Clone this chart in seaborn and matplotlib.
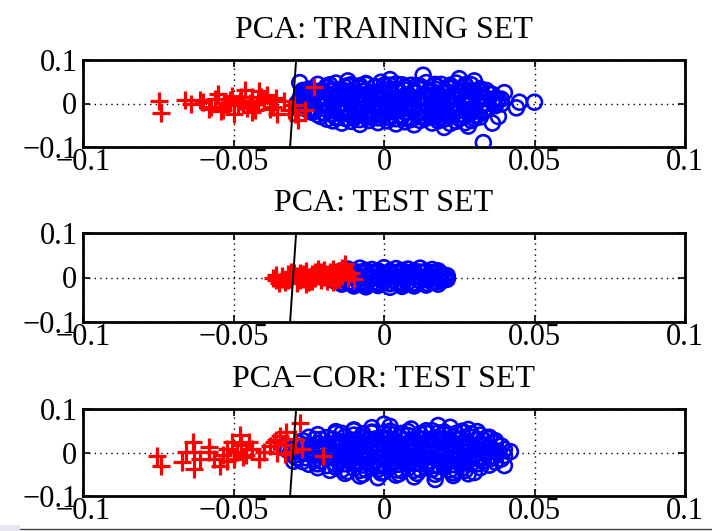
import matplotlib
matplotlib.use("Agg")
import matplotlib.pyplot as plt
from matplotlib.patches import Rectangle
from matplotlib.lines import Line2D
import seaborn as sns
import pandas as pd

# ---------------- data ----------------
titles = ["PCA: TRAINING SET", "PCA: TEST SET", "PCA\u2212COR: TEST SET"]
x_ticks = [-0.1, -0.05, 0, 0.05, 0.1]
x_tick_labels = ["\u22120.1", "\u22120.05", "0", "0.05", "0.1"]
y_ticks = [-0.1, 0, 0.1]
y_tick_labels = ["\u22120.1", "0", "0.1"]
boundary_x = [-0.0292, -0.0312]
boundary_y = [0.1, -0.1]

# Panel 1 : training set
train_blue_x = [-0.022, -0.016, -0.011, -0.006, -0.001, 0.004, 0.009, 0.014, 0.019, 0.024, 0.029,
                -0.025, -0.019, -0.014, -0.008, -0.003, 0.002, 0.007, 0.012, 0.017, 0.022, 0.027, 0.032,
                -0.027, -0.021, -0.016, -0.010, -0.005, 0.000, 0.005, 0.010, 0.015, 0.020, 0.025, 0.030, 0.035,
                -0.026, -0.020, -0.014, -0.009, -0.003, 0.002, 0.008, 0.013, 0.018, 0.023, 0.028, 0.033, 0.037,
                -0.028, -0.022, -0.017, -0.011, -0.006, 0.000, 0.005, 0.011, 0.016, 0.021, 0.026, 0.031, 0.036,
                -0.027, -0.021, -0.015, -0.010, -0.004, 0.001, 0.007, 0.012, 0.017, 0.022, 0.027, 0.032, 0.037,
                -0.025, -0.019, -0.013, -0.008, -0.002, 0.003, 0.009, 0.014, 0.019, 0.024, 0.029, 0.034,
                -0.022, -0.017, -0.011, -0.005, 0.000, 0.006, 0.011, 0.016, 0.021, 0.026, 0.031,
                -0.019, -0.013, -0.008, -0.002, 0.004, 0.009, 0.014, 0.020, 0.025, 0.030,
                -0.014, -0.008, -0.002, 0.004, 0.010, 0.016, 0.022, 0.027,
                -0.019, -0.013, -0.008, -0.003, 0.002, 0.007, 0.012, 0.017, 0.022, 0.027,
                -0.026, -0.022, -0.017, -0.011, -0.006, -0.001, 0.004, 0.010, 0.015, 0.020, 0.025, 0.030, 0.034,
                -0.027, -0.023, -0.018, -0.012, -0.007, -0.002, 0.003, 0.008, 0.013, 0.018, 0.023, 0.028, 0.033, 0.036,
                -0.028, -0.024, -0.019, -0.013, -0.008, -0.003, 0.003, 0.008, 0.013, 0.018, 0.024, 0.029, 0.034, 0.038,
                -0.029, -0.025, -0.019, -0.014, -0.008, -0.003, 0.003, 0.008, 0.013, 0.019, 0.024, 0.029, 0.034, 0.039,
                -0.027, -0.023, -0.018, -0.012, -0.007, -0.001, 0.004, 0.009, 0.015, 0.020, 0.025, 0.030, 0.035,
                -0.024, -0.020, -0.014, -0.009, -0.003, 0.002, 0.008, 0.013, 0.018, 0.023, 0.028, 0.033,
                -0.021, -0.016, -0.010, -0.005, 0.001, 0.006, 0.012, 0.017, 0.022, 0.027, 0.032,
                -0.017, -0.011, -0.005, 0.001, 0.007, 0.012, 0.018, 0.024, 0.029,
                -0.018, -0.012, -0.006, 0.000, 0.006, 0.011, 0.017, 0.022, 0.027,
                -0.024, -0.018, -0.013, -0.007, -0.001, 0.004, 0.010, 0.016, 0.021, 0.027, 0.032,
                -0.025, -0.019, -0.013, -0.007, -0.001, 0.004, 0.010, 0.016, 0.021, 0.027, 0.032,
                -0.026, -0.020, -0.014, -0.008, -0.002, 0.004, 0.010, 0.016, 0.021, 0.027, 0.033,
                -0.023, -0.017, -0.011, -0.005, 0.001, 0.007, 0.012, 0.018, 0.024, 0.030,
                -0.016, -0.010, -0.004, 0.002, 0.007, 0.013, 0.019, 0.025,
                -0.028, -0.027, 0.002, 0.013, 0.025, 0.030, 0.040, 0.044, 0.050, 0.045, 0.038, 0.033,
                0.036, 0.028, -0.012, 0.020, 0.039]
train_blue_y = [0.044, 0.047, 0.043, 0.046, 0.049, 0.045, 0.042, 0.048, 0.044, 0.047, 0.043,
                0.033, 0.036, 0.032, 0.035, 0.037, 0.034, 0.031, 0.036, 0.033, 0.035, 0.032, 0.034,
                0.024, 0.027, 0.023, 0.026, 0.022, 0.025, 0.028, 0.024, 0.026, 0.023, 0.027, 0.025, 0.022,
                0.014, 0.016, 0.013, 0.017, 0.015, 0.012, 0.016, 0.014, 0.017, 0.013, 0.015, 0.016, 0.012,
                0.006, 0.004, 0.007, 0.003, 0.005, 0.008, 0.004, 0.006, 0.003, 0.007, 0.005, 0.004, 0.006,
                -0.004, -0.006, -0.003, -0.007, -0.005, -0.004, -0.006, -0.003, -0.005, -0.007, -0.004, -0.006, -0.005,
                -0.016, -0.014, -0.017, -0.013, -0.015, -0.017, -0.014, -0.016, -0.013, -0.015, -0.017, -0.014,
                -0.026, -0.024, -0.027, -0.023, -0.025, -0.027, -0.024, -0.026, -0.023, -0.025, -0.027,
                -0.036, -0.034, -0.037, -0.033, -0.035, -0.037, -0.034, -0.036, -0.033, -0.035,
                -0.045, -0.048, -0.044, -0.047, -0.049, -0.045, -0.046, -0.044,
                0.040, 0.038, 0.041, 0.039, 0.042, 0.038, 0.040, 0.041, 0.039, 0.040,
                0.030, 0.028, 0.031, 0.029, 0.030, 0.028, 0.031, 0.029, 0.030, 0.028, 0.031, 0.029, 0.030,
                0.020, 0.019, 0.021, 0.018, 0.020, 0.021, 0.019, 0.020, 0.018, 0.021, 0.019, 0.020, 0.018, 0.021,
                0.010, 0.009, 0.011, 0.010, 0.008, 0.011, 0.009, 0.010, 0.011, 0.009, 0.010, 0.008, 0.011, 0.010,
                0.000, -0.001, 0.001, 0.000, -0.002, 0.001, 0.000, -0.001, 0.002, 0.000, -0.001, 0.001, 0.000, -0.001,
                -0.010, -0.011, -0.009, -0.010, -0.012, -0.009, -0.010, -0.011, -0.009, -0.010, -0.012, -0.010, -0.009,
                -0.020, -0.021, -0.019, -0.020, -0.022, -0.019, -0.020, -0.021, -0.019, -0.020, -0.022, -0.019,
                -0.030, -0.031, -0.029, -0.030, -0.032, -0.029, -0.030, -0.031, -0.029, -0.030, -0.031,
                -0.040, -0.041, -0.039, -0.040, -0.042, -0.039, -0.040, -0.041, -0.039,
                0.043, 0.041, 0.044, 0.042, 0.043, 0.041, 0.044, 0.042, 0.043,
                0.027, 0.029, 0.026, 0.028, 0.027, 0.029, 0.026, 0.028, 0.027, 0.029, 0.026,
                0.012, 0.013, 0.011, 0.012, 0.013, 0.011, 0.012, 0.013, 0.011, 0.012, 0.013,
                -0.002, -0.003, -0.001, -0.002, -0.003, -0.001, -0.002, -0.003, -0.001, -0.002, -0.003,
                -0.018, -0.017, -0.019, -0.018, -0.017, -0.019, -0.018, -0.017, -0.019, -0.018,
                -0.033, -0.034, -0.032, -0.033, -0.034, -0.032, -0.033, -0.034,
                0.048, 0.030, 0.055, 0.065, 0.057, 0.052, 0.025, -0.010, 0.003, 0.003, -0.030, -0.090,
                -0.045, -0.052, 0.052, -0.055, 0.010]
train_red_x = [-0.0748, -0.0741, -0.0641, -0.0611, -0.0575, -0.0551, -0.0535, -0.0512, -0.0498, -0.0475,
               -0.0462, -0.0445, -0.0429, -0.0415, -0.0399, -0.0369, -0.0355, -0.0332, -0.0316, -0.0296,
               -0.0286, -0.0262, -0.0233, -0.0600, -0.0560, -0.0530, -0.0505, -0.0485, -0.0455, -0.0440,
               -0.0420, -0.0390, -0.0380, -0.0540, -0.0470,
               -0.0580, -0.0520, -0.0480, -0.0440, -0.0410, -0.0360, -0.0660, -0.0300]
train_red_y = [0.005, -0.021, -0.002, 0.009, -0.007, 0.021, -0.014, 0.009, -0.025, 0.016,
               0.032, 0.002, -0.014, 0.028, 0.009, -0.007, -0.025, 0.005, -0.014, -0.025,
               -0.037, -0.014, 0.039, 0.004, 0.010, 0.002, 0.018, -0.004, -0.010, 0.014,
               0.006, 0.020, -0.012, -0.018, 0.000,
               -0.012, -0.004, 0.006, -0.020, 0.016, 0.012, 0.008, -0.004]

# Panel 2 : test set
test_blue_x = [-0.012, -0.008, -0.004, 0.000, 0.004, 0.008, 0.012, 0.016,
               -0.016, -0.012, -0.008, -0.004, 0.000, 0.004, 0.008, 0.012, 0.016, 0.019,
               -0.018, -0.014, -0.010, -0.006, -0.002, 0.002, 0.006, 0.010, 0.014, 0.018, 0.021,
               -0.016, -0.012, -0.008, -0.004, 0.000, 0.004, 0.008, 0.012, 0.016, 0.019,
               -0.010, -0.006, -0.002, 0.002, 0.006, 0.010, 0.014,
               -0.014, -0.010, -0.006, -0.002, 0.002, 0.006, 0.010, 0.014, 0.018,
               -0.017, -0.013, -0.009, -0.005, -0.001, 0.003, 0.007, 0.011, 0.015, 0.019, 0.021,
               -0.017, -0.013, -0.009, -0.005, -0.001, 0.003, 0.007, 0.011, 0.015, 0.019, 0.021,
               -0.014, -0.010, -0.006, -0.002, 0.002, 0.006, 0.010, 0.014, 0.018,
               -0.014, -0.010, -0.006, -0.002, 0.002, 0.006, 0.010, 0.014, 0.017,
               -0.016, -0.012, -0.008, -0.004, 0.000, 0.004, 0.008, 0.012, 0.016, 0.020,
               -0.014, -0.010, -0.006, -0.002, 0.002, 0.006, 0.010, 0.014, 0.017]
test_blue_y = [0.019, 0.021, 0.018, 0.022, 0.020, 0.019, 0.021, 0.018,
               0.011, 0.009, 0.012, 0.010, 0.008, 0.011, 0.009, 0.012, 0.010, 0.009,
               0.001, -0.001, 0.002, 0.000, -0.002, 0.001, -0.001, 0.002, 0.000, -0.001, 0.001,
               -0.009, -0.011, -0.010, -0.012, -0.009, -0.011, -0.010, -0.008, -0.011, -0.009,
               -0.019, -0.021, -0.018, -0.022, -0.020, -0.019, -0.017,
               0.015, 0.014, 0.016, 0.015, 0.014, 0.016, 0.015, 0.014, 0.015,
               0.005, 0.004, 0.006, 0.005, 0.004, 0.006, 0.005, 0.004, 0.006, 0.005, 0.004,
               -0.005, -0.004, -0.006, -0.005, -0.004, -0.006, -0.005, -0.004, -0.006, -0.005, -0.004,
               -0.015, -0.014, -0.016, -0.015, -0.014, -0.016, -0.015, -0.014, -0.015,
               0.012, 0.013, 0.011, 0.012, 0.013, 0.011, 0.012, 0.013, 0.011,
               0.000, 0.001, -0.001, 0.000, 0.001, -0.001, 0.000, 0.001, -0.001, 0.000,
               -0.012, -0.013, -0.011, -0.012, -0.013, -0.011, -0.012, -0.013, -0.011]
test_red_x = [-0.037, -0.036, -0.034, -0.033, -0.032, -0.031, -0.030, -0.029, -0.028, -0.027,
              -0.026, -0.025, -0.024, -0.023, -0.022, -0.021, -0.020, -0.019, -0.018, -0.017,
              -0.016, -0.015, -0.014, -0.013, -0.012, -0.010, -0.028, -0.024, -0.020, -0.017,
              -0.036, -0.034, -0.032, -0.030, -0.029, -0.027, -0.025, -0.023, -0.021, -0.019,
              -0.018, -0.016, -0.015, -0.014, -0.012, -0.011, -0.035, -0.031, -0.026, -0.022]
test_red_y = [0.000, -0.006, 0.004, -0.009, 0.008, -0.003, 0.005, -0.012, 0.010, -0.004,
              0.014, 0.002, -0.008, 0.012, 0.004, -0.006, 0.016, 0.007, -0.002, 0.018,
              0.010, -0.004, 0.022, 0.030, 0.008, -0.004, -0.006, 0.008, 0.002, -0.010,
              0.005, -0.003, -0.005, 0.010, 0.003, 0.007, -0.010, -0.002, 0.012, -0.008,
              0.012, -0.006, 0.014, 0.004, -0.002, 0.010, -0.012, 0.012, -0.014, 0.018]

# Panel 3 : PCA-COR test set
cor_blue_x = [-0.010, -0.004, 0.002, 0.009, 0.016, 0.022, 0.028,
              -0.022, -0.016, -0.010, -0.004, 0.002, 0.008, 0.014, 0.020, 0.026, 0.032,
              -0.027, -0.021, -0.015, -0.009, -0.003, 0.003, 0.009, 0.015, 0.021, 0.027, 0.033, 0.037,
              -0.029, -0.024, -0.018, -0.012, -0.006, 0.000, 0.006, 0.012, 0.018, 0.024, 0.030, 0.035, 0.039,
              -0.031, -0.026, -0.020, -0.014, -0.008, -0.002, 0.004, 0.010, 0.016, 0.022, 0.028, 0.034, 0.038, 0.042,
              -0.029, -0.023, -0.017, -0.011, -0.005, 0.001, 0.007, 0.013, 0.019, 0.025, 0.031, 0.036, 0.039,
              -0.025, -0.019, -0.013, -0.007, -0.001, 0.005, 0.011, 0.017, 0.023, 0.029, 0.035,
              -0.018, -0.012, -0.006, 0.000, 0.006, 0.012, 0.018, 0.024, 0.030,
              -0.008, -0.002, 0.004, 0.010, 0.017, 0.023,
              -0.016, -0.010, -0.004, 0.002, 0.008, 0.014, 0.020, 0.026, 0.031,
              -0.025, -0.019, -0.013, -0.007, -0.001, 0.005, 0.011, 0.017, 0.023, 0.029, 0.034,
              -0.028, -0.022, -0.016, -0.010, -0.004, 0.002, 0.008, 0.014, 0.020, 0.026, 0.032, 0.037,
              -0.030, -0.024, -0.018, -0.012, -0.006, 0.000, 0.006, 0.012, 0.018, 0.024, 0.030, 0.036, 0.040,
              -0.030, -0.024, -0.018, -0.012, -0.006, 0.000, 0.006, 0.012, 0.018, 0.024, 0.030, 0.036, 0.040,
              -0.027, -0.021, -0.015, -0.009, -0.003, 0.003, 0.009, 0.015, 0.021, 0.027, 0.033, 0.037,
              -0.022, -0.016, -0.010, -0.004, 0.002, 0.008, 0.014, 0.020, 0.026, 0.032,
              -0.013, -0.007, -0.001, 0.005, 0.011, 0.017, 0.023, 0.028,
              -0.014, -0.007, 0.000, 0.006, 0.012, 0.018, 0.024, 0.029,
              -0.023, -0.017, -0.011, -0.005, 0.001, 0.007, 0.013, 0.019, 0.025, 0.031,
              -0.026, -0.020, -0.014, -0.008, -0.002, 0.004, 0.010, 0.016, 0.022, 0.028, 0.033,
              -0.027, -0.021, -0.015, -0.009, -0.003, 0.003, 0.009, 0.015, 0.021, 0.027, 0.033, 0.037,
              -0.026, -0.020, -0.014, -0.008, -0.002, 0.004, 0.010, 0.016, 0.022, 0.028, 0.033,
              -0.022, -0.016, -0.010, -0.004, 0.002, 0.008, 0.014, 0.020, 0.026, 0.031,
              -0.014, -0.008, -0.002, 0.004, 0.010, 0.016, 0.022, 0.027,
              -0.032, -0.030, -0.033, 0.000, 0.018, 0.040, 0.035]
cor_blue_y = [0.052, 0.057, 0.060, 0.054, 0.050, 0.058, 0.053,
              0.041, 0.044, 0.040, 0.045, 0.042, 0.039, 0.044, 0.041, 0.046, 0.040,
              0.027, 0.030, 0.026, 0.029, 0.031, 0.027, 0.025, 0.030, 0.028, 0.026, 0.029, 0.027,
              0.013, 0.016, 0.012, 0.015, 0.014, 0.017, 0.013, 0.015, 0.012, 0.016, 0.014, 0.013, 0.015,
              0.001, -0.002, 0.002, 0.000, -0.001, 0.003, -0.002, 0.001, 0.000, -0.003, 0.002, -0.001, 0.001, 0.002,
              -0.013, -0.016, -0.012, -0.015, -0.014, -0.017, -0.013, -0.015, -0.012, -0.016, -0.014, -0.013, -0.015,
              -0.027, -0.030, -0.026, -0.029, -0.031, -0.027, -0.025, -0.030, -0.028, -0.026, -0.029,
              -0.041, -0.044, -0.040, -0.045, -0.042, -0.039, -0.044, -0.041, -0.046,
              -0.054, -0.058, -0.052, -0.056, -0.062, -0.053,
              0.048, 0.050, 0.047, 0.049, 0.048, 0.050, 0.047, 0.049, 0.048,
              0.035, 0.034, 0.036, 0.035, 0.034, 0.036, 0.035, 0.034, 0.036, 0.035, 0.034,
              0.021, 0.020, 0.022, 0.021, 0.020, 0.022, 0.021, 0.020, 0.022, 0.021, 0.020, 0.022,
              0.007, 0.006, 0.008, 0.007, 0.006, 0.008, 0.007, 0.006, 0.008, 0.007, 0.006, 0.008, 0.007,
              -0.007, -0.006, -0.008, -0.007, -0.006, -0.008, -0.007, -0.006, -0.008, -0.007, -0.006, -0.008, -0.007,
              -0.021, -0.020, -0.022, -0.021, -0.020, -0.022, -0.021, -0.020, -0.022, -0.021, -0.020, -0.022,
              -0.035, -0.034, -0.036, -0.035, -0.034, -0.036, -0.035, -0.034, -0.036, -0.035,
              -0.048, -0.050, -0.047, -0.049, -0.048, -0.050, -0.047, -0.049,
              0.044, 0.043, 0.045, 0.044, 0.043, 0.045, 0.044, 0.043,
              0.030, 0.031, 0.029, 0.030, 0.031, 0.029, 0.030, 0.031, 0.029, 0.030,
              0.016, 0.017, 0.015, 0.016, 0.017, 0.015, 0.016, 0.017, 0.015, 0.016, 0.017,
              0.002, 0.003, 0.001, 0.002, 0.003, 0.001, 0.002, 0.003, 0.001, 0.002, 0.003, 0.001,
              -0.012, -0.011, -0.013, -0.012, -0.011, -0.013, -0.012, -0.011, -0.013, -0.012, -0.011,
              -0.026, -0.027, -0.025, -0.026, -0.027, -0.025, -0.026, -0.027, -0.025, -0.026,
              -0.040, -0.041, -0.039, -0.040, -0.041, -0.039, -0.040, -0.041,
              0.005, -0.020, 0.015, 0.065, 0.062, -0.030, 0.035]
cor_red_x = [-0.0754, -0.0740, -0.0670, -0.0658, -0.0635, -0.0630, -0.0630, -0.0610, -0.0580, -0.0565,
             -0.0545, -0.0535, -0.0520, -0.0505, -0.0498, -0.0490, -0.0480, -0.0475, -0.0460, -0.0450,
             -0.0400, -0.0380, -0.0355, -0.0345, -0.0330, -0.0326, -0.0310, -0.0296, -0.0280, -0.0273,
             -0.0203, -0.0415, -0.0365,
             -0.0520, -0.0470, -0.0440, -0.0580, -0.0360, -0.0330]
cor_red_y = [-0.009, -0.032, -0.021, 0.002, 0.025, 0.002, -0.037, -0.014, 0.002, -0.014,
             -0.032, -0.005, 0.009, 0.025, -0.014, 0.002, 0.041, 0.018, -0.005, 0.025,
             0.002, 0.014, -0.002, 0.037, 0.018, 0.048, 0.002, 0.030, 0.067, 0.009,
             -0.009, -0.014, 0.023,
             -0.020, -0.010, 0.008, 0.012, 0.028, -0.004]

panels = [
    (train_blue_x, train_blue_y, train_red_x, train_red_y),
    (test_blue_x, test_blue_y, test_red_x, test_red_y),
    (cor_blue_x, cor_blue_y, cor_red_x, cor_red_y),
]

# ---------------- style ----------------
sns.set_theme(style="white")
plt.rcParams["font.family"] = ["Liberation Serif", "DejaVu Serif"]
plt.rcParams["axes.unicode_minus"] = True

W, H = 712, 531
fig = plt.figure(figsize=(W / 100, H / 100), dpi=100)
fig.patch.set_facecolor("white")

# small screenshot artefacts along the very bottom of the reference image
fig.patches.append(Rectangle((0, 0), 20 / W, 6 / H, transform=fig.transFigure,
                             facecolor="#e6e7ee", edgecolor="none", zorder=-10))
fig.lines.append(Line2D([20 / W, 1], [2 / H, 2 / H], transform=fig.transFigure,
                        color="#444444", linewidth=1.0, zorder=-5))

# axes boxes in pixels (left, top, right, bottom)
boxes = [(83, 60, 685, 147), (83, 233, 685, 322), (83, 409, 685, 496)]

for (lx, ty, rx, by), title, (b_x, b_y, r_x, r_y) in zip(boxes, titles, panels):
    ax = fig.add_axes([lx / W, 1 - by / H, (rx - lx) / W, (by - ty) / H])
    ax.set_facecolor("white")
    ax.grid(True, linestyle=(0, (1, 3)), color="black", linewidth=1.0)
    ax.set_axisbelow(True)

    blue_df = pd.DataFrame({"x": b_x, "y": b_y})
    red_df = pd.DataFrame({"x": r_x, "y": r_y})
    sns.scatterplot(data=blue_df, x="x", y="y", ax=ax, marker="o", s=115,
                    facecolors="none", edgecolor="#0000ff", linewidth=1.9, zorder=3)
    sns.scatterplot(data=red_df, x="x", y="y", ax=ax, marker="+", s=160,
                    color="#ff0000", linewidth=2.3, zorder=4)
    sns.lineplot(x=boundary_x, y=boundary_y, ax=ax, color="black", linewidth=1.4,
                 sort=False, estimator=None, zorder=5)

    ax.set_xlim(-0.1, 0.1)
    ax.set_ylim(-0.1, 0.1)
    ax.set_xticks(x_ticks)
    ax.set_xticklabels(x_tick_labels)
    ax.set_yticks(y_ticks)
    ax.set_yticklabels(y_tick_labels)
    ax.set_xlabel("")
    ax.set_ylabel("")
    ax.tick_params(direction="in", length=5, width=1.2, labelsize=22, colors="black",
                   top=True, right=True, bottom=True, left=True)
    ax.tick_params(axis="x", pad=1)
    ax.tick_params(axis="y", pad=4)
    for sp in ax.spines.values():
        sp.set_visible(True)
        sp.set_color("black")
        sp.set_linewidth(2.0)
    ax.set_title(title, fontsize=23, pad=16, color="black")

fig.savefig("out.png", dpi=100, facecolor="white")
